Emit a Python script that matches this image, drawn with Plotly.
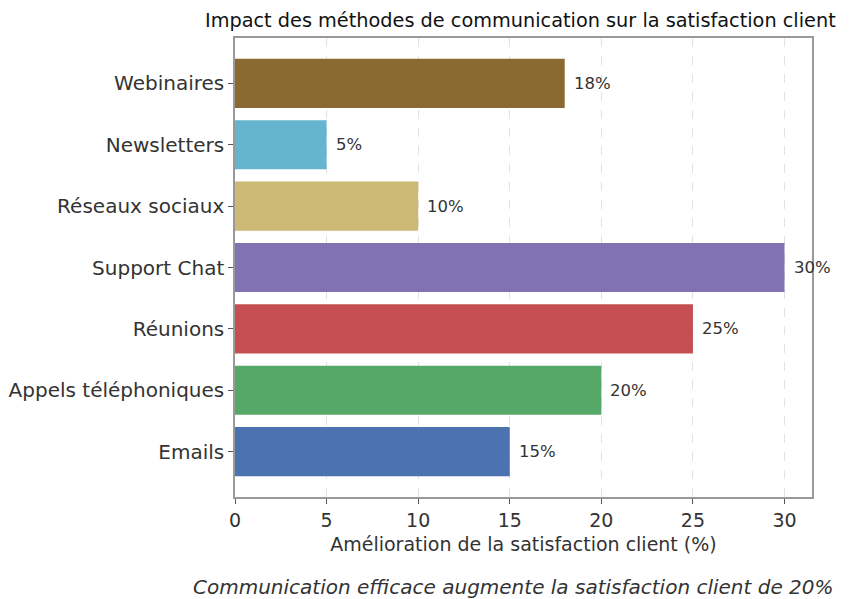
import plotly.graph_objects as go

categories = ["Emails", "Appels téléphoniques", "Réunions", "Support Chat",
              "Réseaux sociaux", "Newsletters", "Webinaires"]
values = [15, 20, 25, 30, 10, 5, 18]
colors = ["#4C72B0", "#55A868", "#C44E52", "#8172B3", "#CCB974", "#64B5CD", "#8B6A31"]
x_ticks = [0, 5, 10, 15, 20, 25, 30]

title_text = "Impact des méthodes de communication sur la satisfaction client"
xaxis_title = "Amélioration de la satisfaction client (%)"
caption = "Communication efficace augmente la satisfaction client de 20%"

FONT = "DejaVu Sans"
TXT = "#333333"

fig = go.Figure()
fig.add_trace(go.Bar(
    y=categories, x=values, orientation="h",
    marker=dict(color=colors, line=dict(width=0)),
    width=0.8, showlegend=False, hoverinfo="x+y",
))

for c, v in zip(categories, values):
    fig.add_annotation(x=v, y=c, xref="x", yref="y", text=f"{v}%",
                       showarrow=False, xanchor="left", yanchor="middle",
                       xshift=7, font=dict(family=FONT, size=16.5, color=TXT))

fig.add_annotation(text=title_text, xref="paper", yref="paper", x=0.495, y=1,
                   yshift=18, xanchor="center", yanchor="middle", showarrow=False,
                   font=dict(family=FONT, size=19.3, color="#111111"))
fig.add_annotation(text=f"<i>{caption}</i>", xref="paper", yref="paper", x=0.4835, y=0,
                   yshift=-90, xanchor="center", yanchor="middle", showarrow=False,
                   font=dict(family=FONT, size=20, color=TXT))

fig.update_layout(
    width=847, height=591,
    margin=dict(l=227, r=43, t=30, b=102, autoexpand=False),
    plot_bgcolor="white", paper_bgcolor="white",
    font=dict(family=FONT, color=TXT, size=16),
    xaxis=dict(range=[0, 31.5], tickvals=x_ticks, ticks="outside", ticklen=5,
               tickcolor="#555555", tickfont=dict(size=19, color=TXT),
               showgrid=True, gridcolor="#e2e2e2", griddash="dash", gridwidth=1,
               showline=True, linecolor="#999999", linewidth=1.5, mirror=True,
               zeroline=False, automargin=False,
               title=dict(text=xaxis_title, font=dict(size=19, color=TXT), standoff=8)),
    yaxis=dict(range=[-0.74, 6.74], ticks="outside", ticklen=5, tickcolor="#555555",
               tickfont=dict(size=20, color=TXT), showgrid=False,
               showline=True, linecolor="#999999", linewidth=1.5, mirror=True,
               automargin=False, ticklabelstandoff=0,
               categoryorder="array", categoryarray=categories),
)

fig.write_html("out.html")
